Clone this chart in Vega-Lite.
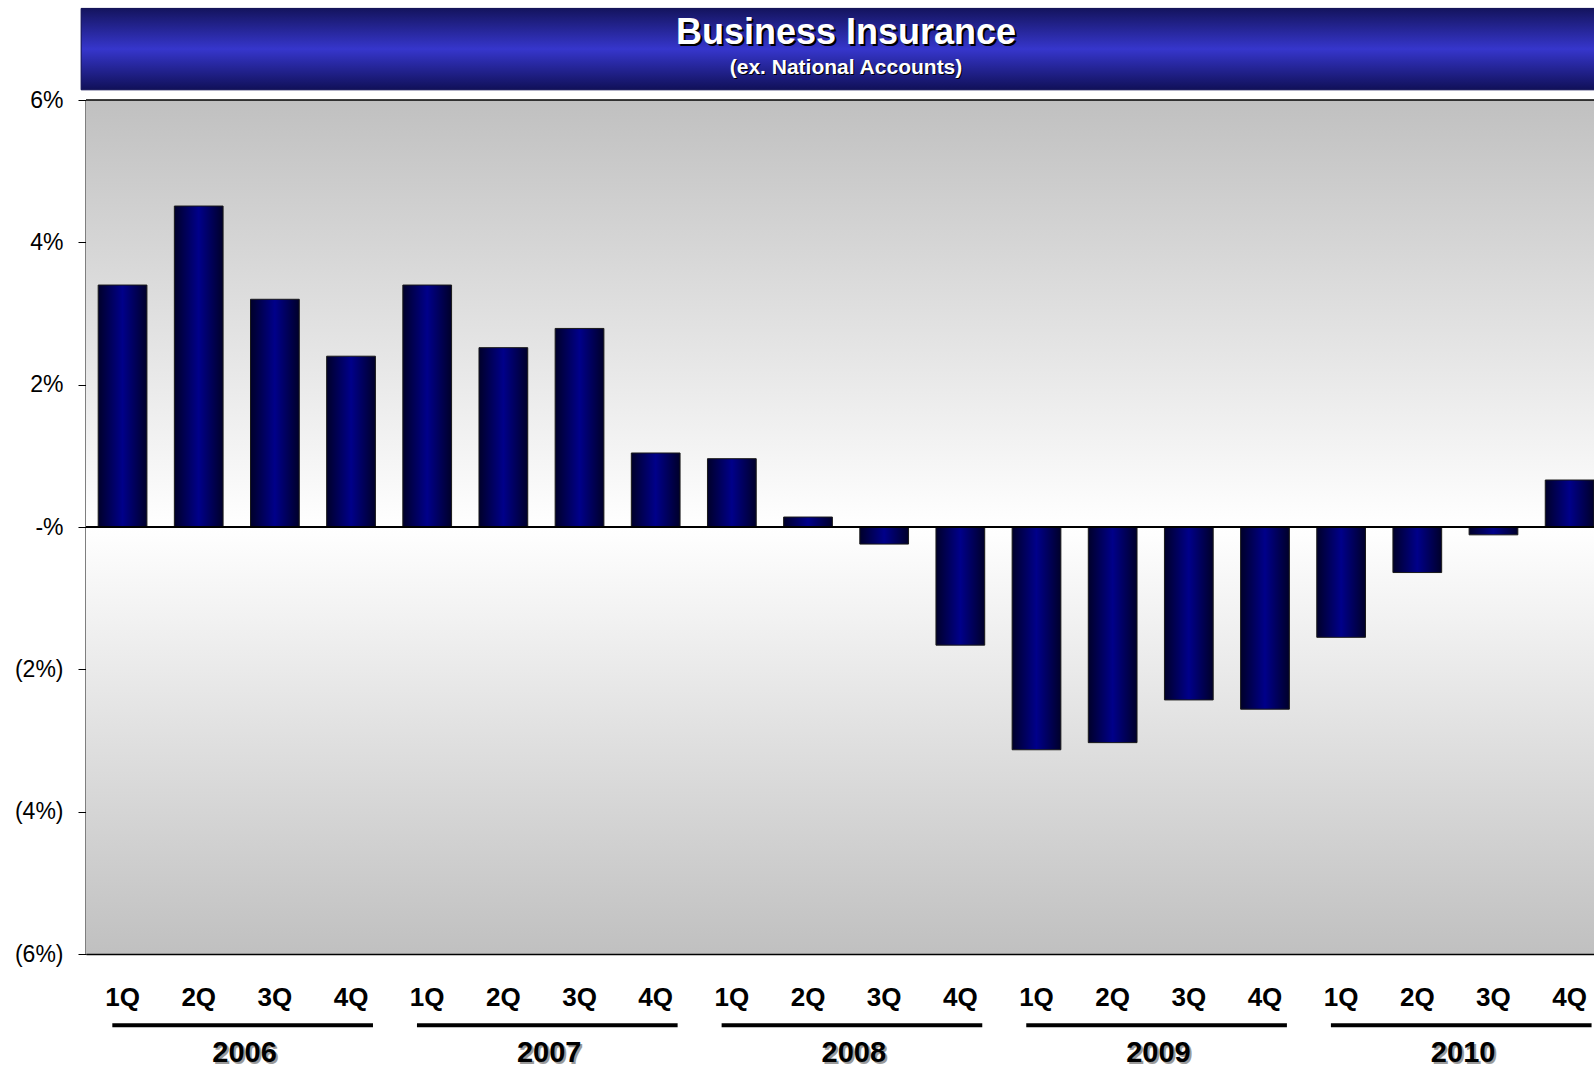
{
  "$schema": "https://vega.github.io/schema/vega-lite/v6.json",
  "autosize": {"type": "none"},
  "padding": {"left": 86, "top": 100, "right": 0, "bottom": 114},
  "width": 1508,
  "height": 854,
  "background": "white",
  "datasets": {
    "quarters": [
      {"period": "2006 1Q", "pct": 3.40},
      {"period": "2006 2Q", "pct": 4.51},
      {"period": "2006 3Q", "pct": 3.20},
      {"period": "2006 4Q", "pct": 2.40},
      {"period": "2007 1Q", "pct": 3.40},
      {"period": "2007 2Q", "pct": 2.52},
      {"period": "2007 3Q", "pct": 2.79},
      {"period": "2007 4Q", "pct": 1.04},
      {"period": "2008 1Q", "pct": 0.96},
      {"period": "2008 2Q", "pct": 0.14},
      {"period": "2008 3Q", "pct": -0.24},
      {"period": "2008 4Q", "pct": -1.66},
      {"period": "2009 1Q", "pct": -3.13},
      {"period": "2009 2Q", "pct": -3.03},
      {"period": "2009 3Q", "pct": -2.43},
      {"period": "2009 4Q", "pct": -2.56},
      {"period": "2010 1Q", "pct": -1.55},
      {"period": "2010 2Q", "pct": -0.64},
      {"period": "2010 3Q", "pct": -0.11},
      {"period": "2010 4Q", "pct": 0.66}
    ],
    "years": [
      {"year": "2006", "first": "2006 1Q", "mid": "2006 2Q", "last": "2006 4Q"},
      {"year": "2007", "first": "2007 1Q", "mid": "2007 2Q", "last": "2007 4Q"},
      {"year": "2008", "first": "2008 1Q", "mid": "2008 2Q", "last": "2008 4Q"},
      {"year": "2009", "first": "2009 1Q", "mid": "2009 2Q", "last": "2009 4Q"},
      {"year": "2010", "first": "2010 1Q", "mid": "2010 2Q", "last": "2010 4Q"}
    ],
    "one": [{"k": 1}]
  },
  "layer": [
    {
      "data": {"name": "one"},
      "mark": {"type": "rect", "fill": {"gradient": "linear", "x1": 0, "y1": 0, "x2": 0, "y2": 1, "stops": [{"offset": 0, "color": "#c0c0c0"}, {"offset": 0.5, "color": "#ffffff"}, {"offset": 1, "color": "#c0c0c0"}]}},
      "encoding": {
        "y": {"datum": 6, "type": "quantitative", "scale": {"domain": [-6, 6], "nice": false, "zero": false}, "title": null},
        "y2": {"datum": -6}
      }
    },
    {
      "data": {"name": "one"},
      "mark": {"type": "rect", "stroke": "#0a0a50", "strokeWidth": 1, "fill": {"gradient": "linear", "x1": 0, "y1": 0, "x2": 0, "y2": 1, "stops": [{"offset": 0, "color": "#14145e"}, {"offset": 0.5, "color": "#3636cc"}, {"offset": 1, "color": "#101058"}]}},
      "encoding": {
        "x": {"datum": "2006 1Q", "type": "nominal", "bandPosition": -0.35, "title": null},
        "x2": {"datum": "2010 4Q", "bandPosition": 1.4},
        "y": {"datum": 7.287, "type": "quantitative", "scale": {"domain": [-6, 6], "nice": false, "zero": false}, "title": null},
        "y2": {"datum": 6.143}
      }
    },
    {
      "data": {"name": "one"},
      "mark": {"type": "text", "text": "Business Insurance", "font": "Liberation Sans", "fontWeight": "bold", "fontSize": 36, "color": "#000000", "baseline": "alphabetic", "align": "center", "dx": 8, "dy": 2},
      "encoding": {
        "y": {"datum": 6.783, "type": "quantitative", "scale": {"domain": [-6, 6], "nice": false, "zero": false}, "title": null}
      }
    },
    {
      "data": {"name": "one"},
      "mark": {"type": "text", "text": "Business Insurance", "font": "Liberation Sans", "fontWeight": "bold", "fontSize": 36, "color": "#ffffff", "baseline": "alphabetic", "align": "center", "dx": 6},
      "encoding": {
        "y": {"datum": 6.783, "type": "quantitative", "scale": {"domain": [-6, 6], "nice": false, "zero": false}, "title": null}
      }
    },
    {
      "data": {"name": "one"},
      "mark": {"type": "text", "text": "(ex. National Accounts)", "font": "Liberation Sans", "fontWeight": "bold", "fontSize": 21, "color": "#000000", "baseline": "alphabetic", "align": "center", "dx": 7, "dy": 1},
      "encoding": {
        "y": {"datum": 6.371, "type": "quantitative", "scale": {"domain": [-6, 6], "nice": false, "zero": false}, "title": null}
      }
    },
    {
      "data": {"name": "one"},
      "mark": {"type": "text", "text": "(ex. National Accounts)", "font": "Liberation Sans", "fontWeight": "bold", "fontSize": 21, "color": "#ffffff", "baseline": "alphabetic", "align": "center", "dx": 6},
      "encoding": {
        "y": {"datum": 6.371, "type": "quantitative", "scale": {"domain": [-6, 6], "nice": false, "zero": false}, "title": null}
      }
    },
    {
      "data": {"name": "quarters"},
      "mark": {"type": "bar", "stroke": "#1a1a1a", "strokeWidth": 1, "fill": {"gradient": "linear", "x1": 0, "y1": 0, "x2": 1, "y2": 0, "stops": [{"offset": 0, "color": "#00002a"}, {"offset": 0.5, "color": "#00008a"}, {"offset": 1, "color": "#00002a"}]}},
      "encoding": {
        "x": {"field": "period", "type": "nominal", "title": null, "scale": {"paddingInner": 0.36, "paddingOuter": 0.08, "align": 1}},
        "y": {"field": "pct", "type": "quantitative", "title": null, "scale": {"domain": [-6, 6], "nice": false, "zero": false}, "axis": {"values": [-6, -4, -2, 0, 2, 4, 6]}}
      }
    },
    {
      "data": {"name": "one"},
      "mark": {"type": "rule", "color": "#000000", "strokeWidth": 2},
      "encoding": {
        "y": {"datum": 0, "type": "quantitative", "scale": {"domain": [-6, 6], "nice": false, "zero": false}, "title": null}
      }
    },
    {
      "data": {"name": "one"},
      "mark": {"type": "rule", "color": "#000000", "strokeWidth": 1.5},
      "encoding": {
        "y": {"datum": 6, "type": "quantitative", "scale": {"domain": [-6, 6], "nice": false, "zero": false}, "title": null}
      }
    },
    {
      "data": {"name": "years"},
      "mark": {"type": "rule", "color": "#000000", "strokeWidth": 4},
      "encoding": {
        "x": {"field": "first", "type": "nominal", "title": null, "bandPosition": 0.29},
        "x2": {"field": "last", "bandPosition": 0.95},
        "y": {"datum": -7.0, "type": "quantitative", "scale": {"domain": [-6, 6], "nice": false, "zero": false}, "title": null}
      }
    },
    {
      "data": {"name": "years"},
      "mark": {"type": "text", "font": "Liberation Sans", "fontWeight": "bold", "fontSize": 29, "color": "#9a9a9a", "baseline": "alphabetic", "align": "center", "dx": 2, "dy": 2},
      "encoding": {
        "x": {"field": "mid", "type": "nominal", "title": null, "bandPosition": 1.44},
        "y": {"datum": -7.52, "type": "quantitative", "scale": {"domain": [-6, 6], "nice": false, "zero": false}, "title": null},
        "text": {"field": "year"}
      }
    },
    {
      "data": {"name": "years"},
      "mark": {"type": "text", "font": "Liberation Sans", "fontWeight": "bold", "fontSize": 29, "color": "#000000", "baseline": "alphabetic", "align": "center"},
      "encoding": {
        "x": {"field": "mid", "type": "nominal", "title": null, "bandPosition": 1.44},
        "y": {"datum": -7.52, "type": "quantitative", "scale": {"domain": [-6, 6], "nice": false, "zero": false}, "title": null},
        "text": {"field": "year"}
      }
    }
  ],
  "config": {
    "view": {"stroke": null},
    "axisX": {
      "grid": false,
      "ticks": false,
      "domain": true,
      "domainColor": "#000000",
      "domainWidth": 1.5,
      "labelAngle": 0,
      "labelExpr": "slice(datum.value, 5)",
      "labelFont": "Liberation Sans",
      "labelFontWeight": "bold",
      "labelFontSize": 26,
      "labelColor": "#000000",
      "labelPadding": 30
    },
    "axisY": {
      "grid": false,
      "labelExpr": "datum.value == 0 ? '-%' : (datum.value < 0 ? '(' + abs(datum.value) + '%)' : datum.value + '%')",
      "labelFont": "Liberation Sans",
      "labelFontSize": 23,
      "labelColor": "#000000",
      "labelPadding": 15,
      "tickSize": 8,
      "tickColor": "#000000",
      "tickWidth": 1,
      "domainColor": "#000000",
      "domainWidth": 2
    }
  }
}
